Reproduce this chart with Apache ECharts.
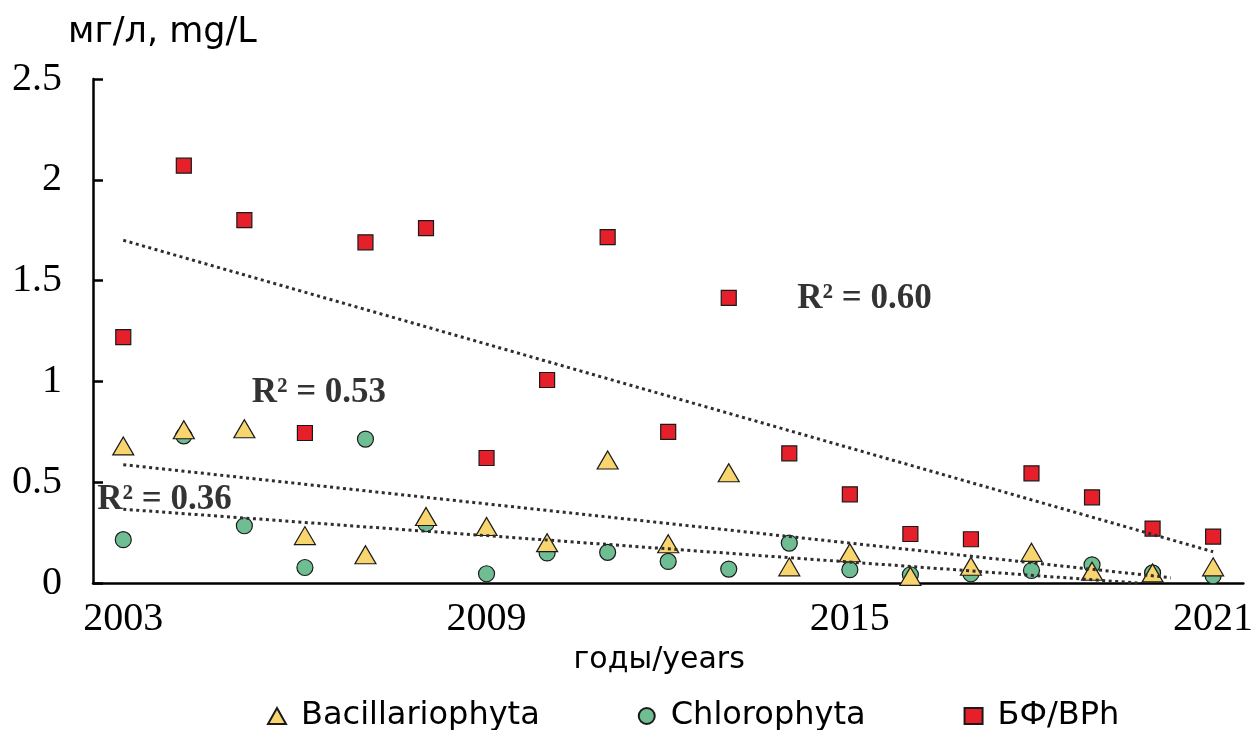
<!DOCTYPE html>
<html>
<head>
<meta charset="utf-8">
<script src="https://cdn.jsdelivr.net/npm/echarts@6/dist/echarts.min.js"></script>
<style>html,body{margin:0;padding:0;background:#fff}#c{width:1256px;height:730px}</style>
</head>
<body>
<div id="c"></div>
<script>
// ---- data ----
var years = ['2003','2004','2005','2006','2007','2008','2009','2010','2011','2012','2013','2014','2015','2016','2017','2018','2019','2020','2021'];
var bacillariophyta = [0.68,0.76,0.765,0.235,0.14,0.33,0.28,0.20,0.61,0.195,0.547,0.08,0.15,0.033,0.083,0.152,0.058,0.05,0.08];
var chlorophyta = [0.215,0.73,0.284,0.077,0.714,0.294,0.046,0.149,0.152,0.107,0.069,0.198,0.066,0.041,0.046,0.062,0.09,0.05,0.036];
var bph = [1.22,2.07,1.80,0.744,1.69,1.76,0.62,1.007,1.716,0.75,1.414,0.643,0.44,0.243,0.217,0.544,0.425,0.27,0.23];
// trend line end points [year, value]
var trendBph = [[2003,1.70],[2021,0.155]];
var trendBac = [[2003,0.587],[2020.3,0.026]];
var trendChl = [[2003,0.366],[2019.75,0.0]];
// R² annotations [year, value, text]
var r2Labels = [[2014.13,1.41,'R\u00B2 = 0.60'],[2005.12,0.945,'R\u00B2 = 0.53'],[2002.57,0.413,'R\u00B2 = 0.36']];
var yTicks = ['0','0.5','1','1.5','2','2.5'];

var serif = 'Liberation Serif';
var sans = 'DejaVu Sans';
var chart = echarts.init(document.getElementById('c'), null, {renderer:'canvas'});
var dotted = {color:'#2e2e2e', width:3, type:[3,3.5], cap:'butt'};
chart.setOption({
  animation:false,
  backgroundColor:'#fff',
  graphic:[{type:'text', left:68, top:15, style:{text:'мг/л, mg/L', font:'35px "DejaVu Sans"', fill:'#000'}}],
  grid:{left:93, right:8, top:79, bottom:147, containLabel:false},
  legend:{
    left:262, top:695, itemWidth:18, itemHeight:16, itemGap:98,
    textStyle:{fontFamily:sans, fontSize:32, color:'#000', padding:[0,0,0,10]},
    data:['Bacillariophyta','Chlorophyta','БФ/BPh']
  },
  xAxis:[{
    type:'category', data:years, boundaryGap:true,
    name:'годы/years', nameLocation:'middle', nameGap:62,
    nameTextStyle:{fontFamily:sans, fontSize:30, color:'#000', padding:[0,18,0,0]},
    axisLine:{lineStyle:{color:'#000', width:2.5}},
    axisTick:{inside:true, length:10, interval:0, lineStyle:{color:'#000', width:2.5}},
    axisLabel:{interval:5, margin:16, fontFamily:serif, fontSize:40, color:'#000'},
    splitLine:{show:false}
  },{
    type:'value', min:2002.5, max:2021.5, show:false
  }],
  yAxis:{
    type:'value', min:0, max:2.5, interval:0.5,
    axisLine:{show:true, lineStyle:{color:'#000', width:2.5}},
    axisTick:{show:true, inside:true, length:10, lineStyle:{color:'#000', width:2.5}},
    axisLabel:{margin:31, fontFamily:serif, fontSize:40, color:'#000', formatter:function(v){ return yTicks[Math.round(v/0.5)]; }},
    splitLine:{show:false}
  },
  series:[
    {name:'Chlorophyta', type:'scatter', xAxisIndex:0, data:chlorophyta, symbol:'circle', symbolSize:16, z:2,
      itemStyle:{color:'#6FBD92', borderColor:'#1a1a1a', borderWidth:1.2, opacity:1}},
    {name:'Bacillariophyta', type:'scatter', xAxisIndex:0, data:bacillariophyta, symbol:'triangle', symbolSize:[21,18], z:3,
      itemStyle:{color:'#F8D56F', borderColor:'#1a1a1a', borderWidth:1.2, opacity:1}},
    {name:'БФ/BPh', type:'scatter', xAxisIndex:0, data:bph, symbol:'rect', symbolSize:15, z:3,
      itemStyle:{color:'#E5202A', borderColor:'#1a1a1a', borderWidth:1.2, opacity:1}},
    {type:'line', xAxisIndex:1, data:trendBph, symbol:'none', lineStyle:dotted, z:5, silent:true},
    {type:'line', xAxisIndex:1, data:trendBac, symbol:'none', lineStyle:dotted, z:5, silent:true},
    {type:'line', xAxisIndex:1, data:trendChl, symbol:'none', lineStyle:dotted, z:5, silent:true},
    {type:'scatter', xAxisIndex:1, symbolSize:0, z:6, silent:true,
      data:r2Labels.map(function(d){ return {value:[d[0], d[1]], name:d[2]}; }),
      label:{show:true, position:'right', distance:0, formatter:function(p){ return p.name; },
        fontFamily:serif, fontWeight:'bold', fontSize:35, color:'#000'}}
  ]
});
</script>
</body>
</html>
